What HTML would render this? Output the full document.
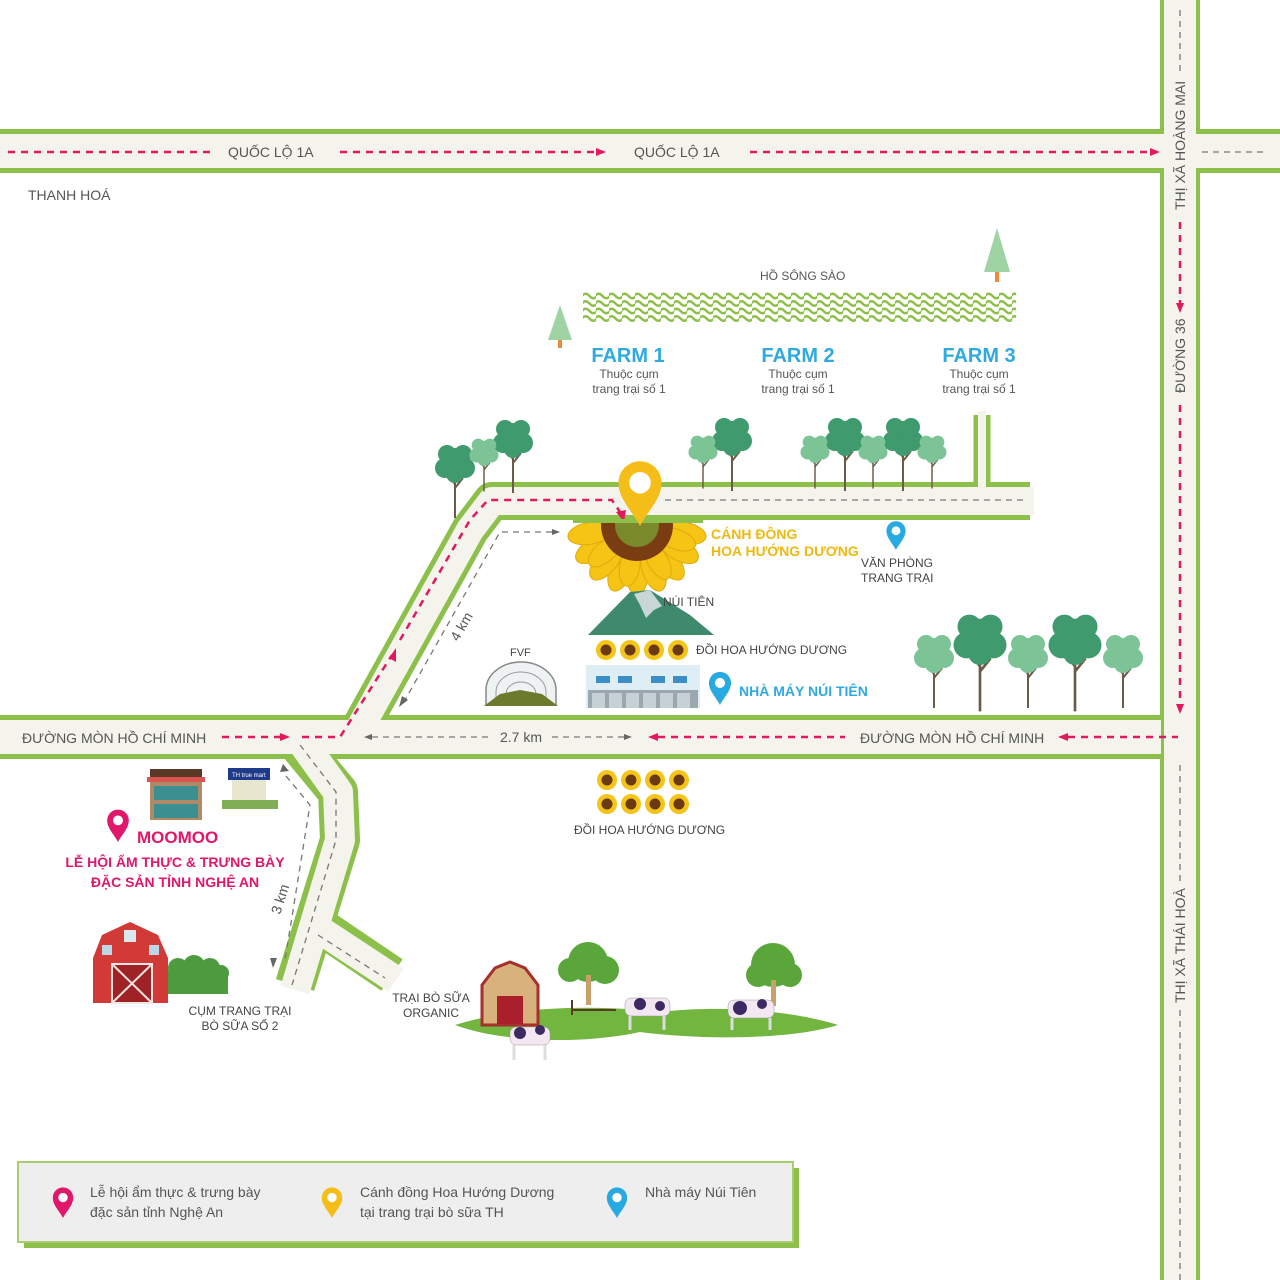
<!DOCTYPE html>
<html><head><meta charset="utf-8"><style>
html,body{margin:0;padding:0;background:#fff}
svg{display:block}
text{font-family:"Liberation Sans Narrow","Liberation Sans",sans-serif}
</style></head><body>
<svg width="1280" height="1280" viewBox="0 0 1280 1280" xmlns="http://www.w3.org/2000/svg">
<defs>
<pattern id="wv" x="583" y="292" width="13" height="7.5" patternUnits="userSpaceOnUse">
<path d="M-1,4 Q2.25,-0.5 6.5,4 T14,4" fill="none" stroke="#8dc04a" stroke-width="2.4"/>
</pattern>
<symbol id="tr" viewBox="-30 -30 60 80" overflow="visible">
<path d="M0,0 L0,48 M0,14 L-8,4 M0,18 L8,8" stroke="#6b5a45" stroke-width="2" fill="none"/>
<circle cx="0" cy="-10" r="12"/><circle cx="-10" cy="-2" r="10"/><circle cx="10" cy="-2" r="10"/><circle cx="-8" cy="-16" r="9"/><circle cx="8" cy="-16" r="9"/><circle cx="0" cy="4" r="9"/>
</symbol>
<clipPath id="sfc"><rect x="560" y="522" width="160" height="80"/></clipPath>
<g id="sf"><circle r="10" fill="#f4c518"/><circle r="5.5" fill="#6b3a12"/></g>
<path id="pin" d="M0,0 C-4,-8 -12,-15 -12,-24 A12,12 0 1 1 12,-24 C12,-15 4,-8 0,0Z"/>
</defs>

<!-- roads green -->
<g fill="none" stroke="#8dc04a" stroke-linejoin="round">
<line x1="0" y1="151" x2="1280" y2="151" stroke-width="44"/>
<line x1="1180" y1="0" x2="1180" y2="1280" stroke-width="40"/>
<line x1="0" y1="737" x2="1165" y2="737" stroke-width="44"/>
<polyline points="355,737 470,530 492,501 1030,501" stroke-width="38"/>
<line x1="982" y1="415" x2="982" y2="505" stroke-width="17"/>
<polyline points="295,740 338,792 340,840 295,985" stroke-width="40"/>
<line x1="318" y1="925" x2="392" y2="975" stroke-width="38"/>
</g>
<g fill="none" stroke="#f4f3ec" stroke-linejoin="round">
<line x1="0" y1="151" x2="1280" y2="151" stroke-width="34"/>
<line x1="1180" y1="0" x2="1180" y2="1280" stroke-width="32"/>
<line x1="0" y1="737" x2="1161" y2="737" stroke-width="34"/>
<polyline points="355,737 470,530 492,501 1034,501" stroke-width="28"/>
<line x1="982" y1="411" x2="982" y2="500" stroke-width="8"/>
<polyline points="295,732 338,792 340,840 295,990" stroke-width="30"/>
<line x1="320" y1="930" x2="396" y2="980" stroke-width="28"/>
</g>
<line x1="0" y1="151" x2="1280" y2="151" stroke="#f4f3ec" stroke-width="34"/>
<line x1="1180" y1="132" x2="1180" y2="170" stroke="#f4f3ec" stroke-width="32"/>
<line x1="1180" y1="718" x2="1180" y2="756" stroke="#f4f3ec" stroke-width="32"/>

<!-- dashes -->
<g stroke="#e2195f" stroke-width="2.5" fill="none" stroke-dasharray="7,6">
<line x1="8" y1="152" x2="210" y2="152"/>
<line x1="340" y1="152" x2="596" y2="152"/>
<line x1="750" y1="152" x2="1150" y2="152"/>
<line x1="1180" y1="222" x2="1180" y2="304"/>
<line x1="1180" y1="405" x2="1180" y2="706"/>
<line x1="222" y1="737" x2="282" y2="737"/>
<polyline points="302,737 340,737 392,655"/>
<polyline points="400,640 470,520 488,500 612,500 620,512"/>
<line x1="658" y1="737" x2="845" y2="737"/>
<line x1="1068" y1="737" x2="1178" y2="737"/>
</g>
<g fill="#e2195f">
<path d="M596,148 L606,152 L596,156Z"/><path d="M1150,148 L1160,152 L1150,156Z"/>
<path d="M1176,303 L1180,313 L1184,303Z"/><path d="M1176,704 L1180,714 L1184,704Z"/>
<path d="M280,733 L290,737 L280,741Z"/><path d="M389,658 L396,648 L396,662Z"/>
<path d="M616,512 L624,522 L626,510Z"/>
<path d="M658,733 L648,737 L658,741Z"/><path d="M1068,733 L1058,737 L1068,741Z"/>
</g>
<g stroke="#777" stroke-width="1.3" fill="none" stroke-dasharray="6,5">
<line x1="1202" y1="152" x2="1265" y2="152"/>
<line x1="1180" y1="10" x2="1180" y2="75"/>
<line x1="1180" y1="765" x2="1180" y2="885"/>
<line x1="1180" y1="1010" x2="1180" y2="1280"/>
<line x1="665" y1="500" x2="1025" y2="500"/>
<line x1="372" y1="737" x2="490" y2="737"/>
<line x1="552" y1="737" x2="626" y2="737"/>
<polyline points="552,532 500,532 405,700"/>
<polyline points="286,776 310,805 285,960"/>
<polyline points="300,745 336,792 336,840 292,985"/>
<line x1="318" y1="935" x2="385" y2="978"/>
</g>
<g fill="#666">
<path d="M372,734 L364,737 L372,740Z"/><path d="M624,734 L632,737 L624,740Z"/>
<path d="M552,529 L560,532 L552,535Z"/><path d="M402,696 L399,707 L408,700Z"/>
<path d="M280,772 L283,764 L289,771Z"/><path d="M270,958 L273,968 L277,958Z"/>
</g>

<!-- road labels -->
<g fill="#555" font-size="14">
<text x="228" y="157">QUỐC LỘ 1A</text>
<text x="634" y="157">QUỐC LỘ 1A</text>
<text x="22" y="743">ĐƯỜNG MÒN HỒ CHÍ MINH</text>
<text x="860" y="743">ĐƯỜNG MÒN HỒ CHÍ MINH</text>
<text x="500" y="742">2.7 km</text>
<text x="28" y="200">THANH HOÁ</text>
<text transform="translate(1185,210) rotate(-90)">THỊ XÃ HOÀNG MAI</text>
<text transform="translate(1185,393) rotate(-90)">ĐƯỜNG 36</text>
<text transform="translate(1185,1003) rotate(-90)">THỊ XÃ THÁI HOÀ</text>
<text transform="translate(458,642) rotate(-60)">4 km</text>
<text transform="translate(280,915) rotate(-72)">3 km</text>
</g>

<!-- lake -->
<text x="760" y="280" fill="#555" font-size="12">HỒ SÔNG SÀO</text>
<rect x="583" y="292" width="433" height="30" fill="url(#wv)"/>
<polygon points="560,305 548,340 572,340" fill="#9fd3a4"/><rect x="558" y="340" width="4" height="8" fill="#ee8a3a"/>
<polygon points="997,228 984,272 1010,272" fill="#9fd3a4"/><rect x="995" y="272" width="4" height="10" fill="#ee8a3a"/>
<g text-anchor="middle">
<g fill="#2fa9df" font-size="20" font-weight="bold"><text x="628" y="362">FARM 1</text><text x="798" y="362">FARM 2</text><text x="979" y="362">FARM 3</text></g>
<g fill="#555" font-size="12"><text x="629" y="378">Thuộc cụm</text><text x="629" y="393">trang trại số 1</text>
<text x="798" y="378">Thuộc cụm</text><text x="798" y="393">trang trại số 1</text>
<text x="979" y="378">Thuộc cụm</text><text x="979" y="393">trang trại số 1</text></g>
</g>

<!-- trees -->
<g fill="#3f9a6e">
<use href="#tr" x="425" y="440" width="60" height="80"/>
<use href="#tr" x="483" y="415" width="60" height="80"/>
<use href="#tr" x="702" y="413" width="60" height="80"/>
<use href="#tr" x="815" y="413" width="60" height="80"/>
<use href="#tr" x="873" y="413" width="60" height="80"/>
</g>
<g fill="#7cc496">
<use href="#tr" x="462" y="435" width="44" height="58"/>
<use href="#tr" x="681" y="432" width="44" height="58"/>
<use href="#tr" x="793" y="432" width="44" height="58"/>
<use href="#tr" x="851" y="432" width="44" height="58"/>
<use href="#tr" x="910" y="432" width="44" height="58"/>
<use href="#tr" x="904" y="630" width="60" height="80"/>
<use href="#tr" x="998" y="630" width="60" height="80"/>
<use href="#tr" x="1093" y="630" width="60" height="80"/>
</g>
<g fill="#3f9a6e">
<use href="#tr" x="940" y="608" width="80" height="106"/>
<use href="#tr" x="1035" y="608" width="80" height="106"/>
</g>

<!-- sunflower -->
<g clip-path="url(#sfc)">
<g fill="#f6c415" stroke="#e0a90c" stroke-width="1">
<g transform="translate(637,525)">
<ellipse cx="0" cy="48" rx="11" ry="22"/><ellipse transform="rotate(20)" cx="0" cy="48" rx="11" ry="22"/><ellipse transform="rotate(-20)" cx="0" cy="48" rx="11" ry="22"/>
<ellipse transform="rotate(40)" cx="0" cy="48" rx="11" ry="22"/><ellipse transform="rotate(-40)" cx="0" cy="48" rx="11" ry="22"/>
<ellipse transform="rotate(60)" cx="0" cy="48" rx="11" ry="22"/><ellipse transform="rotate(-60)" cx="0" cy="48" rx="11" ry="22"/>
<ellipse transform="rotate(80)" cx="0" cy="48" rx="11" ry="22"/><ellipse transform="rotate(-80)" cx="0" cy="48" rx="11" ry="22"/>
<ellipse transform="rotate(10)" cx="0" cy="42" rx="10" ry="20"/><ellipse transform="rotate(-30)" cx="0" cy="42" rx="10" ry="20"/><ellipse transform="rotate(50)" cx="0" cy="42" rx="10" ry="20"/><ellipse transform="rotate(-70)" cx="0" cy="42" rx="10" ry="20"/>
</g></g>
<circle cx="637" cy="525" r="36" fill="#7a3d12"/><circle cx="637" cy="525" r="22" fill="#7a8a2a"/>
</g>
<rect x="573" y="519" width="130" height="4" fill="#8dc04a"/>
<g fill="#f0b912" font-size="14" font-weight="bold"><text x="711" y="539">CÁNH ĐỒNG</text><text x="711" y="556">HOA HƯỚNG DƯƠNG</text></g>
<g transform="translate(640,526) scale(1.8)"><use href="#pin" fill="#f5bd17"/><circle cx="0" cy="-24" r="6" fill="#fff"/></g>

<!-- mountain -->
<polygon points="588,635 630,592 650,590 690,615 714,635" fill="#3f8a6c"/>
<polygon points="634,594 650,590 662,606 654,610 646,618 640,605" fill="#c9d6d6"/>
<text x="663" y="606" fill="#444" font-size="12">NÚI TIÊN</text>
<use href="#sf" x="606" y="650"/><use href="#sf" x="630" y="650"/><use href="#sf" x="654" y="650"/><use href="#sf" x="678" y="650"/>
<text x="696" y="654" fill="#444" font-size="12">ĐỒI HOA HƯỚNG DƯƠNG</text>

<!-- office -->
<g transform="translate(896,550) scale(0.8)"><use href="#pin" fill="#27aae1"/><circle cx="0" cy="-24" r="5.5" fill="#fff"/></g>
<g fill="#444" font-size="12"><text x="861" y="567">VĂN PHÒNG</text><text x="861" y="582">TRANG TRẠI</text></g>

<!-- factory -->
<rect x="586" y="665" width="114" height="43" fill="#dfeef5"/>
<g fill="#3b8fc6"><rect x="596" y="676" width="14" height="7"/><rect x="618" y="676" width="14" height="7"/><rect x="651" y="676" width="14" height="7"/><rect x="673" y="676" width="14" height="7"/></g>
<rect x="588" y="690" width="110" height="18" fill="#9aa7ae"/>
<g fill="#c7d0d5"><rect x="592" y="693" width="13" height="15"/><rect x="609" y="693" width="13" height="15"/><rect x="626" y="693" width="13" height="15"/><rect x="643" y="693" width="13" height="15"/><rect x="660" y="693" width="13" height="15"/><rect x="677" y="693" width="13" height="15"/></g>
<g transform="translate(720,705) scale(0.92)"><use href="#pin" fill="#27aae1"/><circle cx="0" cy="-24" r="5.5" fill="#fff"/></g>
<text x="739" y="696" fill="#2fa9df" font-size="14" font-weight="bold">NHÀ MÁY NÚI TIÊN</text>

<!-- FVF -->
<text x="510" y="656" fill="#444" font-size="11">FVF</text>
<path d="M486,705 L486,690 A35,28 0 0 1 556,690 L556,705Z" fill="#eef2f2" stroke="#888" stroke-width="1.5"/>
<path d="M496,705 L496,692 A25,20 0 0 1 546,692 L546,705 M506,705 L506,694 A15,12 0 0 1 536,694 L536,705" fill="none" stroke="#999" stroke-width="1"/>
<path d="M484,706 L500,694 L520,690 L542,694 L558,706Z" fill="#6b7a2c"/>

<!-- bottom sunflower hill -->
<use href="#sf" x="607" y="780"/><use href="#sf" x="631" y="780"/><use href="#sf" x="655" y="780"/><use href="#sf" x="679" y="780"/>
<use href="#sf" x="607" y="804"/><use href="#sf" x="631" y="804"/><use href="#sf" x="655" y="804"/><use href="#sf" x="679" y="804"/>
<text x="574" y="834" fill="#444" font-size="12">ĐỒI HOA HƯỚNG DƯƠNG</text>

<!-- moomoo -->
<rect x="150" y="769" width="52" height="8" fill="#5a3a26"/><rect x="147" y="777" width="58" height="5" fill="#d9534f"/>
<rect x="150" y="782" width="52" height="38" fill="#b08a66"/><rect x="154" y="786" width="44" height="14" fill="#3c8f91"/><rect x="154" y="804" width="44" height="14" fill="#3c8f91"/>
<rect x="228" y="768" width="42" height="12" fill="#1e3a8a"/><text x="232" y="777" fill="#fff" font-size="6">TH true mart</text>
<rect x="232" y="780" width="34" height="25" fill="#e8e6cf"/><rect x="222" y="800" width="56" height="9" fill="#7fae57"/>
<g transform="translate(118,842) scale(0.9)"><use href="#pin" fill="#e0176b"/><circle cx="0" cy="-24" r="5.5" fill="#fff"/></g>
<text x="137" y="843" fill="#e0176b" font-size="17" font-weight="bold">MOOMOO</text>
<g fill="#e0176b" font-size="14" font-weight="bold" text-anchor="middle"><text x="175" y="867">LỄ HỘI ẨM THỰC &amp; TRƯNG BÀY</text><text x="175" y="887">ĐẶC SẢN TỈNH NGHỆ AN</text></g>

<!-- red barn -->
<path d="M93,1003 L93,958 L102,935 L130,922 L158,935 L168,958 L168,1003Z" fill="#d13a36"/>
<rect x="112" y="964" width="40" height="39" fill="#9f2326" stroke="#f2e6e0" stroke-width="2"/>
<path d="M112,964 L152,1003 M152,964 L112,1003" stroke="#f2e6e0" stroke-width="2"/>
<rect x="102" y="945" width="10" height="10" fill="#bcd7e6"/><rect x="149" y="945" width="10" height="10" fill="#bcd7e6"/><rect x="124" y="930" width="12" height="12" fill="#dbe7ee"/>
<g fill="#4e9a3e"><circle cx="178" cy="968" r="10"/><circle cx="194" cy="966" r="11"/><circle cx="210" cy="968" r="10"/><circle cx="221" cy="973" r="8"/><rect x="168" y="970" width="60" height="24"/></g>
<g fill="#444" font-size="12" text-anchor="middle"><text x="240" y="1015">CỤM TRANG TRẠI</text><text x="240" y="1030">BÒ SỮA SỐ 2</text>
<text x="431" y="1002">TRẠI BÒ SỮA</text><text x="431" y="1017">ORGANIC</text></g>

<!-- organic farm -->
<path d="M455,1025 C520,1005 600,1005 660,1012 C720,1005 790,1010 838,1025 C790,1040 700,1040 640,1032 C580,1045 500,1042 455,1025Z" fill="#72b53f"/>
<path d="M482,1025 L482,985 L495,968 L510,962 L525,968 L538,985 L538,1025Z" fill="#d8b17c" stroke="#a5302e" stroke-width="3"/>
<rect x="497" y="996" width="26" height="28" fill="#a9202b"/>
<path d="M572,1015 L572,1000 M616,1010 L572,1010" stroke="#5a3a26" stroke-width="2"/>
<g fill="#5aa63b"><circle cx="588" cy="962" r="20"/><circle cx="605" cy="970" r="14"/><circle cx="570" cy="970" r="12"/></g>
<rect x="586" y="975" width="5" height="30" fill="#c9a06a"/>
<g fill="#5aa63b"><circle cx="773" cy="965" r="22"/><circle cx="758" cy="975" r="12"/><circle cx="790" cy="975" r="12"/></g>
<rect x="771" y="980" width="5" height="26" fill="#c9a06a"/>
<g fill="#f3e8f1" stroke="#999" stroke-width="0.5">
<rect x="510" y="1027" width="40" height="18" rx="6"/><rect x="625" y="998" width="45" height="18" rx="6"/><rect x="728" y="1000" width="46" height="18" rx="6"/>
</g>
<g fill="#3d2a63"><circle cx="520" cy="1033" r="6"/><circle cx="540" cy="1030" r="5"/><circle cx="640" cy="1004" r="6"/><circle cx="660" cy="1006" r="5"/><circle cx="740" cy="1008" r="7"/><circle cx="762" cy="1004" r="5"/></g>
<g stroke="#ddd" stroke-width="3"><path d="M514,1045 V1060 M545,1045 V1060 M630,1016 V1030 M664,1016 V1030 M732,1018 V1030 M770,1018 V1030"/></g>

<!-- legend -->
<rect x="24" y="1168" width="775" height="80" fill="#8dc04a"/>
<rect x="18" y="1162" width="775" height="80" fill="#eeeeee" stroke="#a9cc70" stroke-width="2"/>
<g transform="translate(63,1218) scale(0.85)"><use href="#pin" fill="#e0176b"/><circle cx="0" cy="-24" r="5.5" fill="#fff"/></g>
<g transform="translate(332,1218) scale(0.85)"><use href="#pin" fill="#f5bd17"/><circle cx="0" cy="-24" r="5.5" fill="#fff"/></g>
<g transform="translate(617,1218) scale(0.85)"><use href="#pin" fill="#27aae1"/><circle cx="0" cy="-24" r="5.5" fill="#fff"/></g>
<g fill="#555" font-size="14"><text x="90" y="1197">Lễ hội ẩm thực &amp; trưng bày</text><text x="90" y="1217">đặc sản tỉnh Nghệ An</text>
<text x="360" y="1197">Cánh đồng Hoa Hướng Dương</text><text x="360" y="1217">tại trang trại bò sữa TH</text>
<text x="645" y="1197">Nhà máy Núi Tiên</text></g>
</svg>
</body></html>
